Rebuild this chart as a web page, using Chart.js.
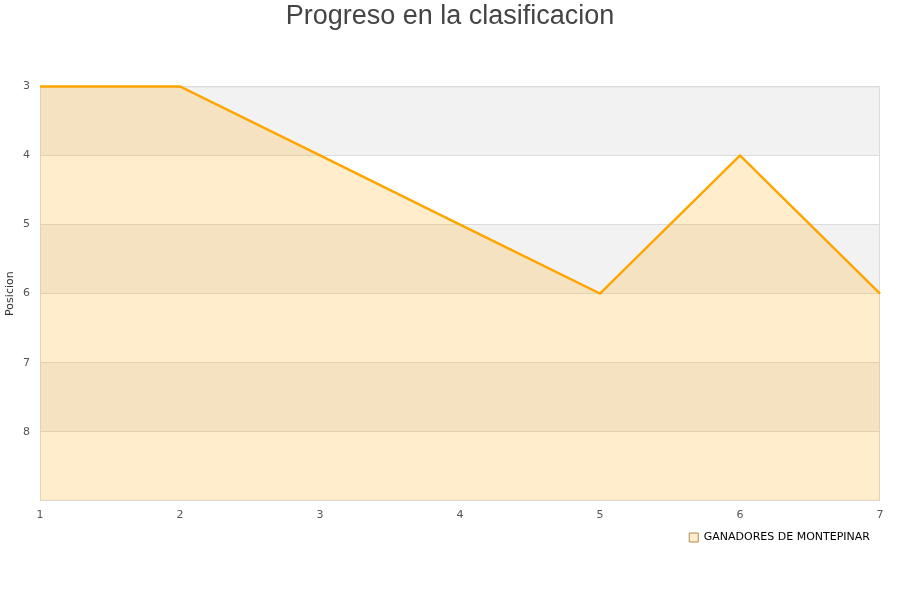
<!DOCTYPE html>
<html>
<head>
<meta charset="utf-8">
<script src="https://cdn.jsdelivr.net/npm/chart.js@4"></script>
<style>
  html, body { margin: 0; padding: 0; background: #fff; }
  #wrap { width: 900px; height: 600px; }
</style>
</head>
<body>
<div id="wrap"><canvas id="ClasificacionChart"></canvas></div>
<script>
const jornadas = ['1', '2', '3', '4', '5', '6', '7'];
const posiciones = [3, 3, 4, 5, 6, 4, 6];
const posicionTicks = [3, 4, 5, 6, 7, 8];
const equipo = 'GANADORES DE MONTEPINAR';

// franjas grises alternas detras de la grafica + borde
const bandas = {
  id: 'bandas',
  beforeDraw(chart) {
    const { ctx, chartArea, scales } = chart;
    const y = scales.y;
    ctx.save();
    for (let v = y.min; v < y.max; v++) {
      if ((v - y.min) % 2 === 0) {
        const top = y.getPixelForValue(v);
        const bottom = y.getPixelForValue(v + 1);
        ctx.fillStyle = '#f2f2f2';
        ctx.fillRect(chartArea.left, top, chartArea.right - chartArea.left, bottom - top);
      }
    }
    ctx.restore();
  },
  beforeDatasetsDraw(chart) {
    const { ctx, chartArea } = chart;
    ctx.save();
    ctx.strokeStyle = '#dcdcdc';
    ctx.lineWidth = 1;
    ctx.strokeRect(chartArea.left + 0.5, chartArea.top + 0.5, chartArea.right - chartArea.left - 1, chartArea.bottom - chartArea.top - 1);
    ctx.restore();
  }
};

const canvas = document.getElementById('ClasificacionChart');
new Chart(canvas, {
  type: 'line',
  data: {
    labels: jornadas,
    datasets: [{
      label: equipo,
      data: posiciones,
      borderColor: '#ffa500',
      borderWidth: 2.5,
      backgroundColor: 'rgba(255, 165, 0, 0.2)',
      fill: { value: 9 },
      pointRadius: 0,
      tension: 0,
      clip: false
    }]
  },
  options: {
    responsive: true,
    maintainAspectRatio: false,
    animation: false,
    layout: { padding: { left: 4, right: 4, top: 0, bottom: 47 } },
    plugins: {
      title: {
        display: true,
        text: 'Progreso en la clasificacion',
        color: '#444',
        font: { family: 'Liberation Sans', size: 27, weight: 'normal' },
        padding: { top: 0, bottom: 54 }
      },
      legend: {
        position: 'bottom',
        align: 'end',
        fullSize: false,
        labels: {
          boxWidth: 9,
          boxHeight: 9,
          color: '#000',
          font: { family: 'DejaVu Sans', size: 11 },
          padding: 10,
          generateLabels(chart) {
            const items = Chart.defaults.plugins.legend.labels.generateLabels(chart);
            items.forEach(it => {
              it.lineWidth = 1;
              it.strokeStyle = '#b08a50';
              it.fillStyle = '#ffedcc';
            });
            return items;
          }
        }
      },
      tooltip: { enabled: false }
    },
    scales: {
      x: {
        offset: false,
        grid: { display: false },
        border: { display: false },
        ticks: {
          color: '#555',
          font: { family: 'DejaVu Sans', size: 11 },
          maxRotation: 0,
          padding: 0
        }
      },
      y: {
        reverse: true,
        min: 3,
        max: 9,
        afterBuildTicks(axis) {
          axis.ticks = posicionTicks.concat([9]).map(v => ({ value: v }));
        },
        afterFit(axis) { axis.width = 36; },
        grid: { color: '#dcdcdc', drawTicks: false },
        border: { display: false },
        title: {
          display: true,
          text: 'Posicion',
          color: '#333',
          font: { family: 'DejaVu Sans', size: 11 },
          padding: 0
        },
        ticks: {
          color: '#555',
          font: { family: 'DejaVu Sans', size: 11 },
          padding: 10,
          callback: v => posicionTicks.includes(v) ? String(v) : ''
        }
      },
      y2: {
        position: 'right',
        afterFit(axis) { axis.width = 16; },
        grid: { display: false },
        border: { display: false },
        ticks: { display: false }
      }
    }
  },
  plugins: [bandas]
});
</script>
</body>
</html>
